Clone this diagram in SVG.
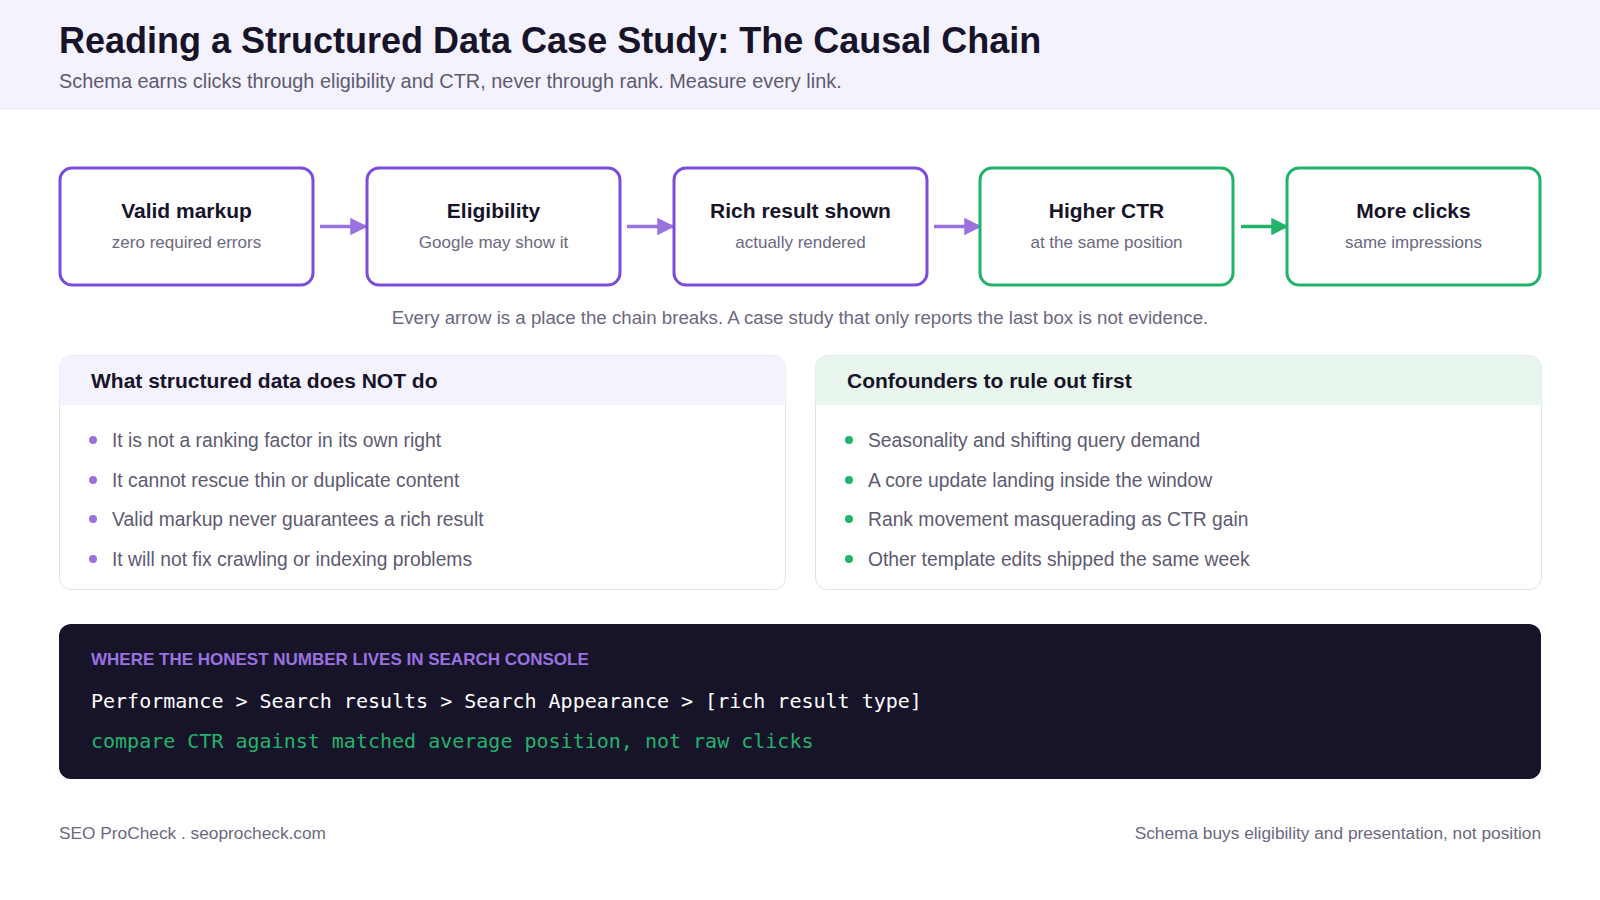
<svg xmlns="http://www.w3.org/2000/svg" width="1600" height="900" viewBox="0 0 1600 900">
<style>
text{font-family:"Liberation Sans",Arial,sans-serif}
.t{font-size:21px;font-weight:bold;fill:#17142a;text-anchor:middle}
.s{font-size:17px;fill:#6b6880;text-anchor:middle}
.bp{fill:#fff;stroke:#7c4ddb;stroke-width:3}
.bg{fill:#fff;stroke:#22b36b;stroke-width:3}
.li{font-size:19.3px;fill:#5e5a72}
.ph{font-size:21px;font-weight:bold;fill:#17142a}
.mono{font-family:"DejaVu Sans Mono","Liberation Mono",monospace;font-size:20px}
</style>
<defs>
<marker id="ap" viewBox="0 0 10 10" refX="9" refY="5" markerWidth="5" markerHeight="5" orient="auto"><path d="M0,0L10,5L0,10z" fill="#9a72e0"/></marker>
<marker id="ag" viewBox="0 0 10 10" refX="9" refY="5" markerWidth="5" markerHeight="5" orient="auto"><path d="M0,0L10,5L0,10z" fill="#22b36b"/></marker>
</defs>
<rect width="1600" height="900" fill="#fff"/>
<rect width="1600" height="108" fill="#f4f2fd"/>
<line x1="0" y1="108.5" x2="1600" y2="108.5" stroke="#e4e0f2"/>
<text x="59" y="53" font-size="36" font-weight="bold" fill="#17142a">Reading a Structured Data Case Study: The Causal Chain</text>
<text x="59" y="88" font-size="19.9" fill="#5e5a72">Schema earns clicks through eligibility and CTR, never through rank. Measure every link.</text>
<g id="connectors" stroke-width="3.5">
<line x1="320" y1="226.5" x2="366" y2="226.5" stroke="#9a72e0" marker-end="url(#ap)"/>
<line x1="627" y1="226.5" x2="673" y2="226.5" stroke="#9a72e0" marker-end="url(#ap)"/>
<line x1="934" y1="226.5" x2="980" y2="226.5" stroke="#9a72e0" marker-end="url(#ap)"/>
<line x1="1241" y1="226.5" x2="1287" y2="226.5" stroke="#22b36b" marker-end="url(#ag)"/>
</g>
<g id="n1"><rect class="bp" x="60" y="168" width="253" height="117" rx="12"/><text class="t" x="186.5" y="218">Valid markup</text><text class="s" x="186.5" y="248">zero required errors</text></g>
<g id="n2"><rect class="bp" x="367" y="168" width="253" height="117" rx="12"/><text class="t" x="493.5" y="218">Eligibility</text><text class="s" x="493.5" y="248">Google may show it</text></g>
<g id="n3"><rect class="bp" x="674" y="168" width="253" height="117" rx="12"/><text class="t" x="800.5" y="218">Rich result shown</text><text class="s" x="800.5" y="248">actually rendered</text></g>
<g id="n4"><rect class="bg" x="980" y="168" width="253" height="117" rx="12"/><text class="t" x="1106.5" y="218">Higher CTR</text><text class="s" x="1106.5" y="248">at the same position</text></g>
<g id="n5"><rect class="bg" x="1287" y="168" width="253" height="117" rx="12"/><text class="t" x="1413.5" y="218">More clicks</text><text class="s" x="1413.5" y="248">same impressions</text></g>
<text x="800" y="324" font-size="18.7" fill="#6b6880" text-anchor="middle">Every arrow is a place the chain breaks. A case study that only reports the last box is not evidence.</text>
<g id="p1">
<rect x="59.5" y="355.5" width="726" height="234" rx="12" fill="#fff" stroke="#e4e0f2"/>
<path d="M59.5,405 V367.5 a12,12 0 0 1 12,-12 H773.5 a12,12 0 0 1 12,12 V405z" fill="#f4f2fd"/>
<text class="ph" x="91" y="388">What structured data does NOT do</text>
<g fill="#9a72e0"><circle cx="93" cy="440" r="4"/><circle cx="93" cy="480" r="4"/><circle cx="93" cy="519" r="4"/><circle cx="93" cy="559" r="4"/></g>
<text class="li" x="112" y="447">It is not a ranking factor in its own right</text>
<text class="li" x="112" y="487">It cannot rescue thin or duplicate content</text>
<text class="li" x="112" y="526">Valid markup never guarantees a rich result</text>
<text class="li" x="112" y="566">It will not fix crawling or indexing problems</text>
</g>
<g id="p2">
<rect x="815.5" y="355.5" width="726" height="234" rx="12" fill="#fff" stroke="#e4e0f2"/>
<path d="M815.5,405 V367.5 a12,12 0 0 1 12,-12 H1529.5 a12,12 0 0 1 12,12 V405z" fill="#e8f6ee"/>
<text class="ph" x="847" y="388">Confounders to rule out first</text>
<g fill="#22b36b"><circle cx="849" cy="440" r="4"/><circle cx="849" cy="480" r="4"/><circle cx="849" cy="519" r="4"/><circle cx="849" cy="559" r="4"/></g>
<text class="li" x="868" y="447">Seasonality and shifting query demand</text>
<text class="li" x="868" y="487">A core update landing inside the window</text>
<text class="li" x="868" y="526">Rank movement masquerading as CTR gain</text>
<text class="li" x="868" y="566">Other template edits shipped the same week</text>
</g>
<g id="code">
<rect x="59" y="624" width="1482" height="155" rx="12" fill="#17142a"/>
<text x="91" y="665" font-size="17" font-weight="bold" fill="#9a72e0">WHERE THE HONEST NUMBER LIVES IN SEARCH CONSOLE</text>
<text class="mono" x="91" y="708" fill="#ffffff">Performance &gt; Search results &gt; Search Appearance &gt; [rich result type]</text>
<text class="mono" x="91" y="748" fill="#22b36b">compare CTR against matched average position, not raw clicks</text>
</g>
<text x="59" y="839" font-size="17.3" fill="#6b6880">SEO ProCheck . seoprocheck.com</text>
<text x="1541" y="839" font-size="17.3" fill="#6b6880" text-anchor="end">Schema buys eligibility and presentation, not position</text>
</svg>
